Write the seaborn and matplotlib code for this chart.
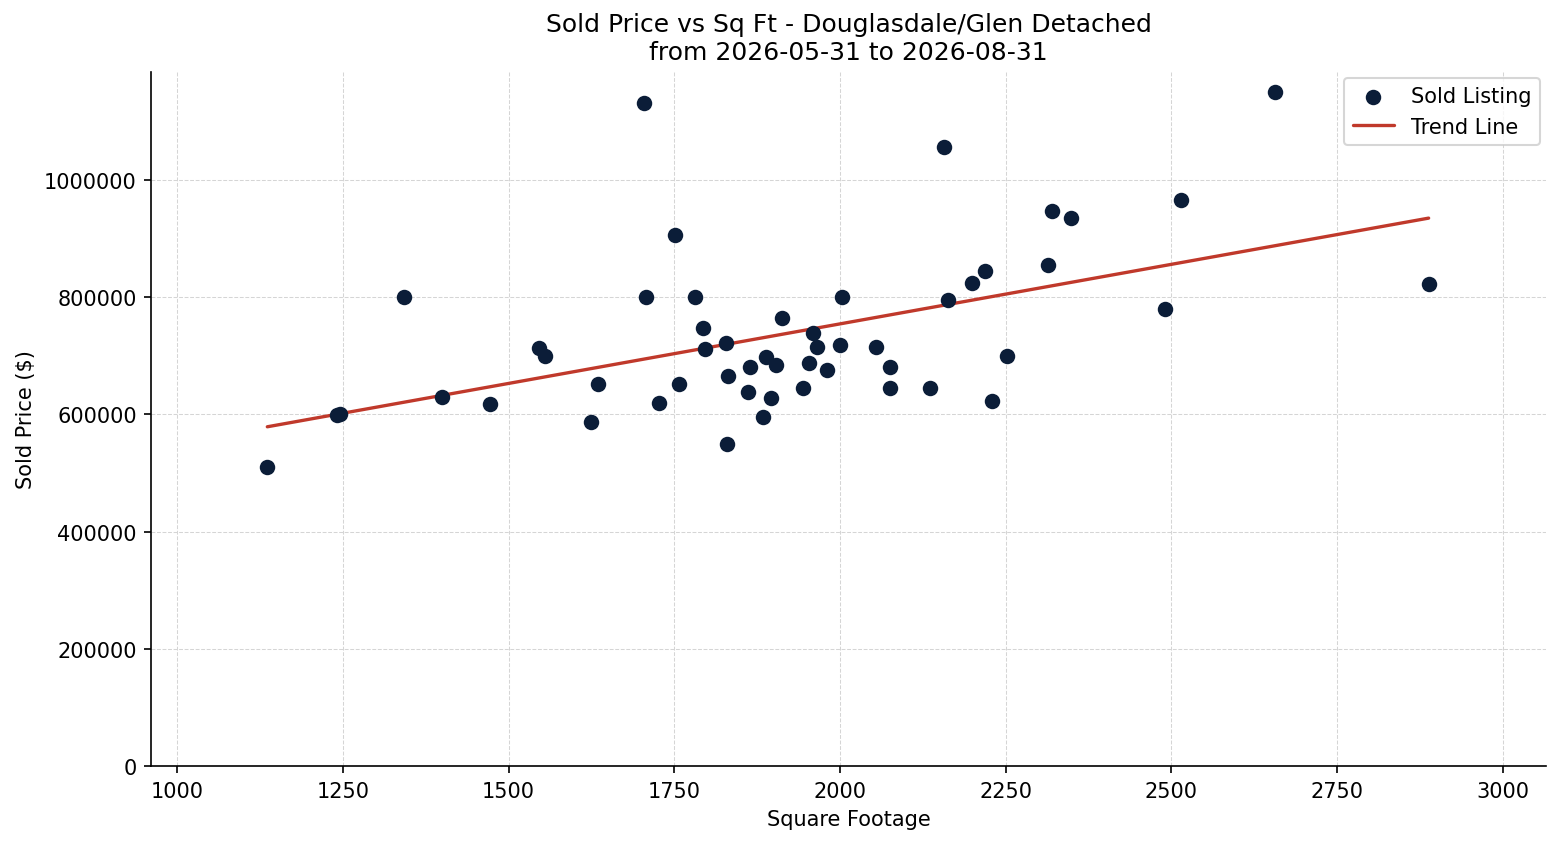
import numpy as np
import pandas as pd
import matplotlib
matplotlib.use("Agg")
import matplotlib.pyplot as plt
import seaborn as sns

sqft = [1136, 1241, 1246, 1342, 1400, 1472, 1546, 1555, 1624, 1635,
        1704, 1707, 1727, 1751, 1757, 1781, 1793, 1796, 1828, 1830,
        1831, 1861, 1864, 1884, 1888, 1896, 1903, 1912, 1944, 1953,
        1959, 1965, 1980, 2000, 2003, 2054, 2075, 2075, 2136, 2157,
        2163, 2199, 2219, 2229, 2252, 2314, 2320, 2348, 2490, 2514,
        2656, 2888]
price = [510000, 599000, 600000, 800000, 630000, 618000, 713000, 700000, 587000, 652000,
         1130000, 800000, 619000, 906000, 652000, 800000, 747000, 711000, 722000, 549000,
         665000, 638000, 681000, 596000, 698000, 628000, 684000, 764000, 645000, 688000,
         739000, 715000, 676000, 718000, 800000, 715000, 681000, 645000, 645000, 1055000,
         795000, 824000, 845000, 623000, 700000, 855000, 947000, 935000, 780000, 966000,
         1150000, 822000]

df = pd.DataFrame({"sqft": sqft, "price": price})

sns.set_style("ticks")
plt.rcParams['font.family'] = ['DejaVu Sans']
plt.rcParams.update({'text.color': 'black', 'axes.labelcolor': 'black',
                     'xtick.color': 'black', 'ytick.color': 'black',
                     'axes.edgecolor': 'black'})

fig, ax = plt.subplots(figsize=(10.4, 5.633), dpi=150)
sns.scatterplot(data=df, x="sqft", y="price", color="#0b1d38", s=55,
                edgecolor="#0b1d38", linewidth=0, label="Sold Listing", ax=ax, zorder=3)

# trend line from a least-squares fit
slope, intercept = np.polyfit(df["sqft"], df["price"], 1)
xs = np.array([df["sqft"].min(), df["sqft"].max()])
ax.plot(xs, slope * xs + intercept, color="#c0392b", lw=1.6, label="Trend Line", zorder=2)

ax.set_xlim(961, 3065)
ax.set_ylim(0, 1184000)
ax.ticklabel_format(style="plain", axis="y")
ax.grid(True, ls="--", lw=0.5, color="#d5d5d5")
ax.set_axisbelow(True)
sns.despine(ax=ax)
ax.tick_params(labelsize=10)
ax.set_title("Sold Price vs Sq Ft - Douglasdale/Glen Detached\nfrom 2026-05-31 to 2026-08-31", fontsize=12)
ax.set_xlabel("Square Footage", fontsize=10)
ax.set_ylabel("Sold Price ($)", fontsize=10)
ax.legend(loc="upper right", fontsize=10, borderaxespad=0.3)

fig.subplots_adjust(left=0.097, right=0.991, top=0.914, bottom=0.092)
fig.savefig("out.png", dpi=150)
